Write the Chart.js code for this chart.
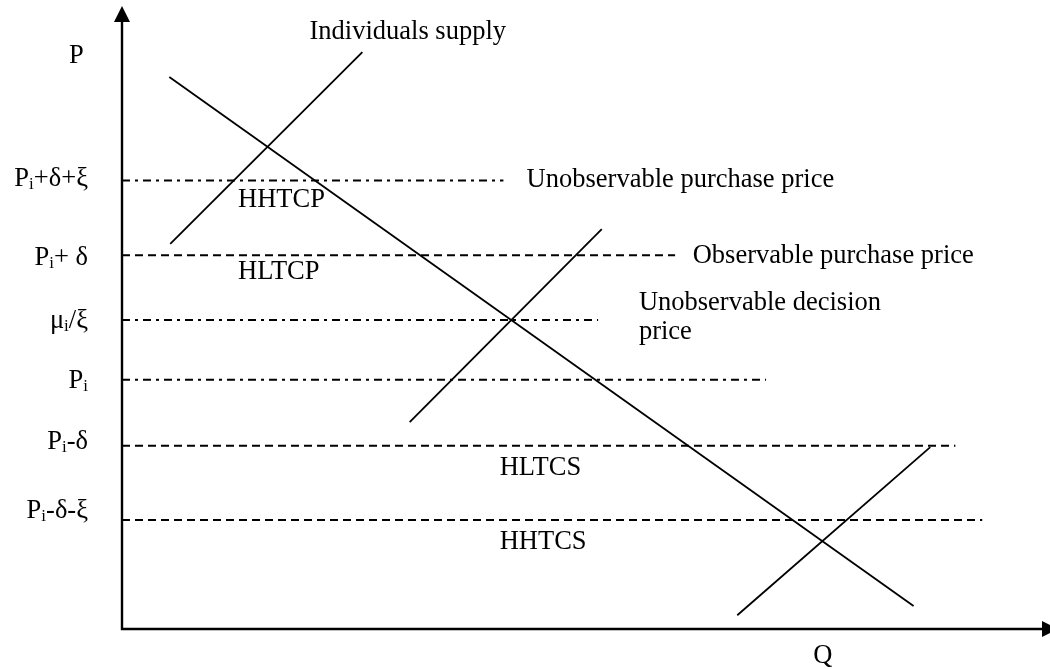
<!DOCTYPE html>
<html>
<head>
<meta charset="utf-8">
<script src="https://cdn.jsdelivr.net/npm/chart.js"></script>
<style>
  html, body { margin: 0; padding: 0; background: #fff; }
  #wrap { width: 1050px; height: 669px; }
</style>
</head>
<body>
<div id="wrap"><canvas id="myChart" width="1050" height="669"></canvas></div>
<script>
// Price levels (P, 0-100) and where each horizontal line stops (Q, 0-100)
const levelNames = ['P_i+δ+ξ', 'P_i+ δ', 'μ_i/ξ', 'P_i', 'P_i-δ', 'P_i-δ-ξ'];
const levelValues = [72, 60, 49.6, 40, 29.4, 17.5];
const levelEnds = [41.1, 59.6, 51.3, 69.4, 89.8, 92.7];
const levelKinds = ['dashdot', 'dash', 'dashdot', 'dashdot', 'dash', 'dash'];

// Demand and the three supply curves, two end points each
const demandQ = [5.1, 85.3];
const demandP = [88.6, 3.7];
const supplyQ = [[5.2, 25.9], [31.0, 51.7], [66.3, 87.1]];
const supplyP = [[61.8, 92.6], [33.2, 64.2], [2.2, 29.2]];

// Notes written on the diagram
const noteText = ['Individuals supply', 'Unobservable purchase price', 'Observable purchase price',
  'Unobservable decision', 'price', 'HHTCP', 'HLTCP', 'HLTCS', 'HHTCS'];

// where the notes sit, in chart units
const noteQ = [20.2, 43.6, 61.5, 55.7, 55.7, 12.5, 12.5, 40.7, 40.7];
const noteP = [94.7, 70.9, 58.7, 51.2, 46.5, 67.7, 56.2, 24.7, 12.8];
// baseline nudges (px) for the price labels left of the axis
const labelNudge = [6, 10, 8, 8, 3, -2];

const FONT = '"Liberation Serif", "Times New Roman", serif';
const dashes = { dash: [8, 5], dashdot: [8, 5, 3, 5] };

function pts(qs, ps) {
  return qs.map((q, i) => ({ x: q, y: ps[i] }));
}

const datasets = [];
levelValues.forEach((v, i) => {
  datasets.push({
    data: [{ x: 0, y: v }, { x: levelEnds[i], y: v }],
    borderDash: dashes[levelKinds[i]],
    borderWidth: 2
  });
});
datasets.push({ data: pts(demandQ, demandP), borderWidth: 1.8 });
supplyQ.forEach((qs, i) => {
  datasets.push({ data: pts(qs, supplyP[i]), borderWidth: 1.8 });
});
datasets.forEach(d => {
  d.showLine = true;
  d.pointRadius = 0;
  d.borderColor = '#000';
  d.backgroundColor = '#000';
  d.fill = false;
});

// text with "_i" meaning a subscript i
function drawRich(ctx, str, x, y, align) {
  const parts = [];
  let k = 0;
  while (k < str.length) {
    if (str[k] === '_') {
      parts.push({ t: str[k + 1], sub: true });
      k += 2;
    } else {
      let j = k;
      while (j < str.length && str[j] !== '_') j++;
      parts.push({ t: str.slice(k, j), sub: false });
      k = j;
    }
  }
  let total = 0;
  parts.forEach(p => {
    ctx.font = (p.sub ? '17px ' : '26.5px ') + FONT;
    p.w = ctx.measureText(p.t).width;
    total += p.w;
  });
  let cx = align === 'right' ? x - total : x;
  ctx.textAlign = 'left';
  ctx.textBaseline = 'alphabetic';
  parts.forEach(p => {
    ctx.font = (p.sub ? '17px ' : '26.5px ') + FONT;
    ctx.fillText(p.t, cx, p.sub ? y + 3 : y);
    cx += p.w;
  });
}

const diagramPlugin = {
  id: 'diagram',
  afterDatasetsDraw(chart) {
    const { ctx, chartArea, scales: { x, y } } = chart;
    const x0 = x.getPixelForValue(0);
    const y0 = y.getPixelForValue(0);
    ctx.save();
    ctx.strokeStyle = '#000';
    ctx.fillStyle = '#000';
    ctx.lineWidth = 2.4;
    ctx.setLineDash([]);
    ctx.beginPath();
    ctx.moveTo(x0, y0);
    ctx.lineTo(x0, chartArea.top + 14);
    ctx.moveTo(x0 - 1.2, y0);
    ctx.lineTo(chartArea.right - 6, y0);
    ctx.stroke();

    // arrow heads
    ctx.beginPath();
    ctx.moveTo(x0, chartArea.top);
    ctx.lineTo(x0 - 8, chartArea.top + 16);
    ctx.lineTo(x0 + 8, chartArea.top + 16);
    ctx.closePath();
    ctx.moveTo(chartArea.right + 8, y0);
    ctx.lineTo(chartArea.right - 8, y0 - 8);
    ctx.lineTo(chartArea.right - 8, y0 + 8);
    ctx.closePath();
    ctx.fill();

    // price labels
    levelNames.forEach((name, i) => {
      drawRich(ctx, name, x0 - 34, y.getPixelForValue(levelValues[i]) + labelNudge[i], 'right');
    });

    // axis names
    drawRich(ctx, 'P', x0 - 53, chartArea.top + 57, 'left');
    drawRich(ctx, 'Q', x.getPixelForValue(74.5), y0 + 34, 'left');

    // notes
    noteText.forEach((t, i) => {
      drawRich(ctx, t, x.getPixelForValue(noteQ[i]), y.getPixelForValue(noteP[i]), 'left');
    });
    ctx.restore();
  }
};

new Chart(document.getElementById('myChart'), {
  type: 'scatter',
  data: { datasets: datasets },
  options: {
    responsive: false,
    animation: false,
    layout: { padding: { left: 122, right: 0, top: 6, bottom: 40 } },
    plugins: { legend: { display: false }, tooltip: { enabled: false } },
    elements: { line: { tension: 0, borderCapStyle: 'butt' } },
    scales: {
      x: { type: 'linear', min: 0, max: 100, display: false },
      y: { type: 'linear', min: 0, max: 100, display: false }
    }
  },
  plugins: [diagramPlugin]
});
</script>
</body>
</html>
